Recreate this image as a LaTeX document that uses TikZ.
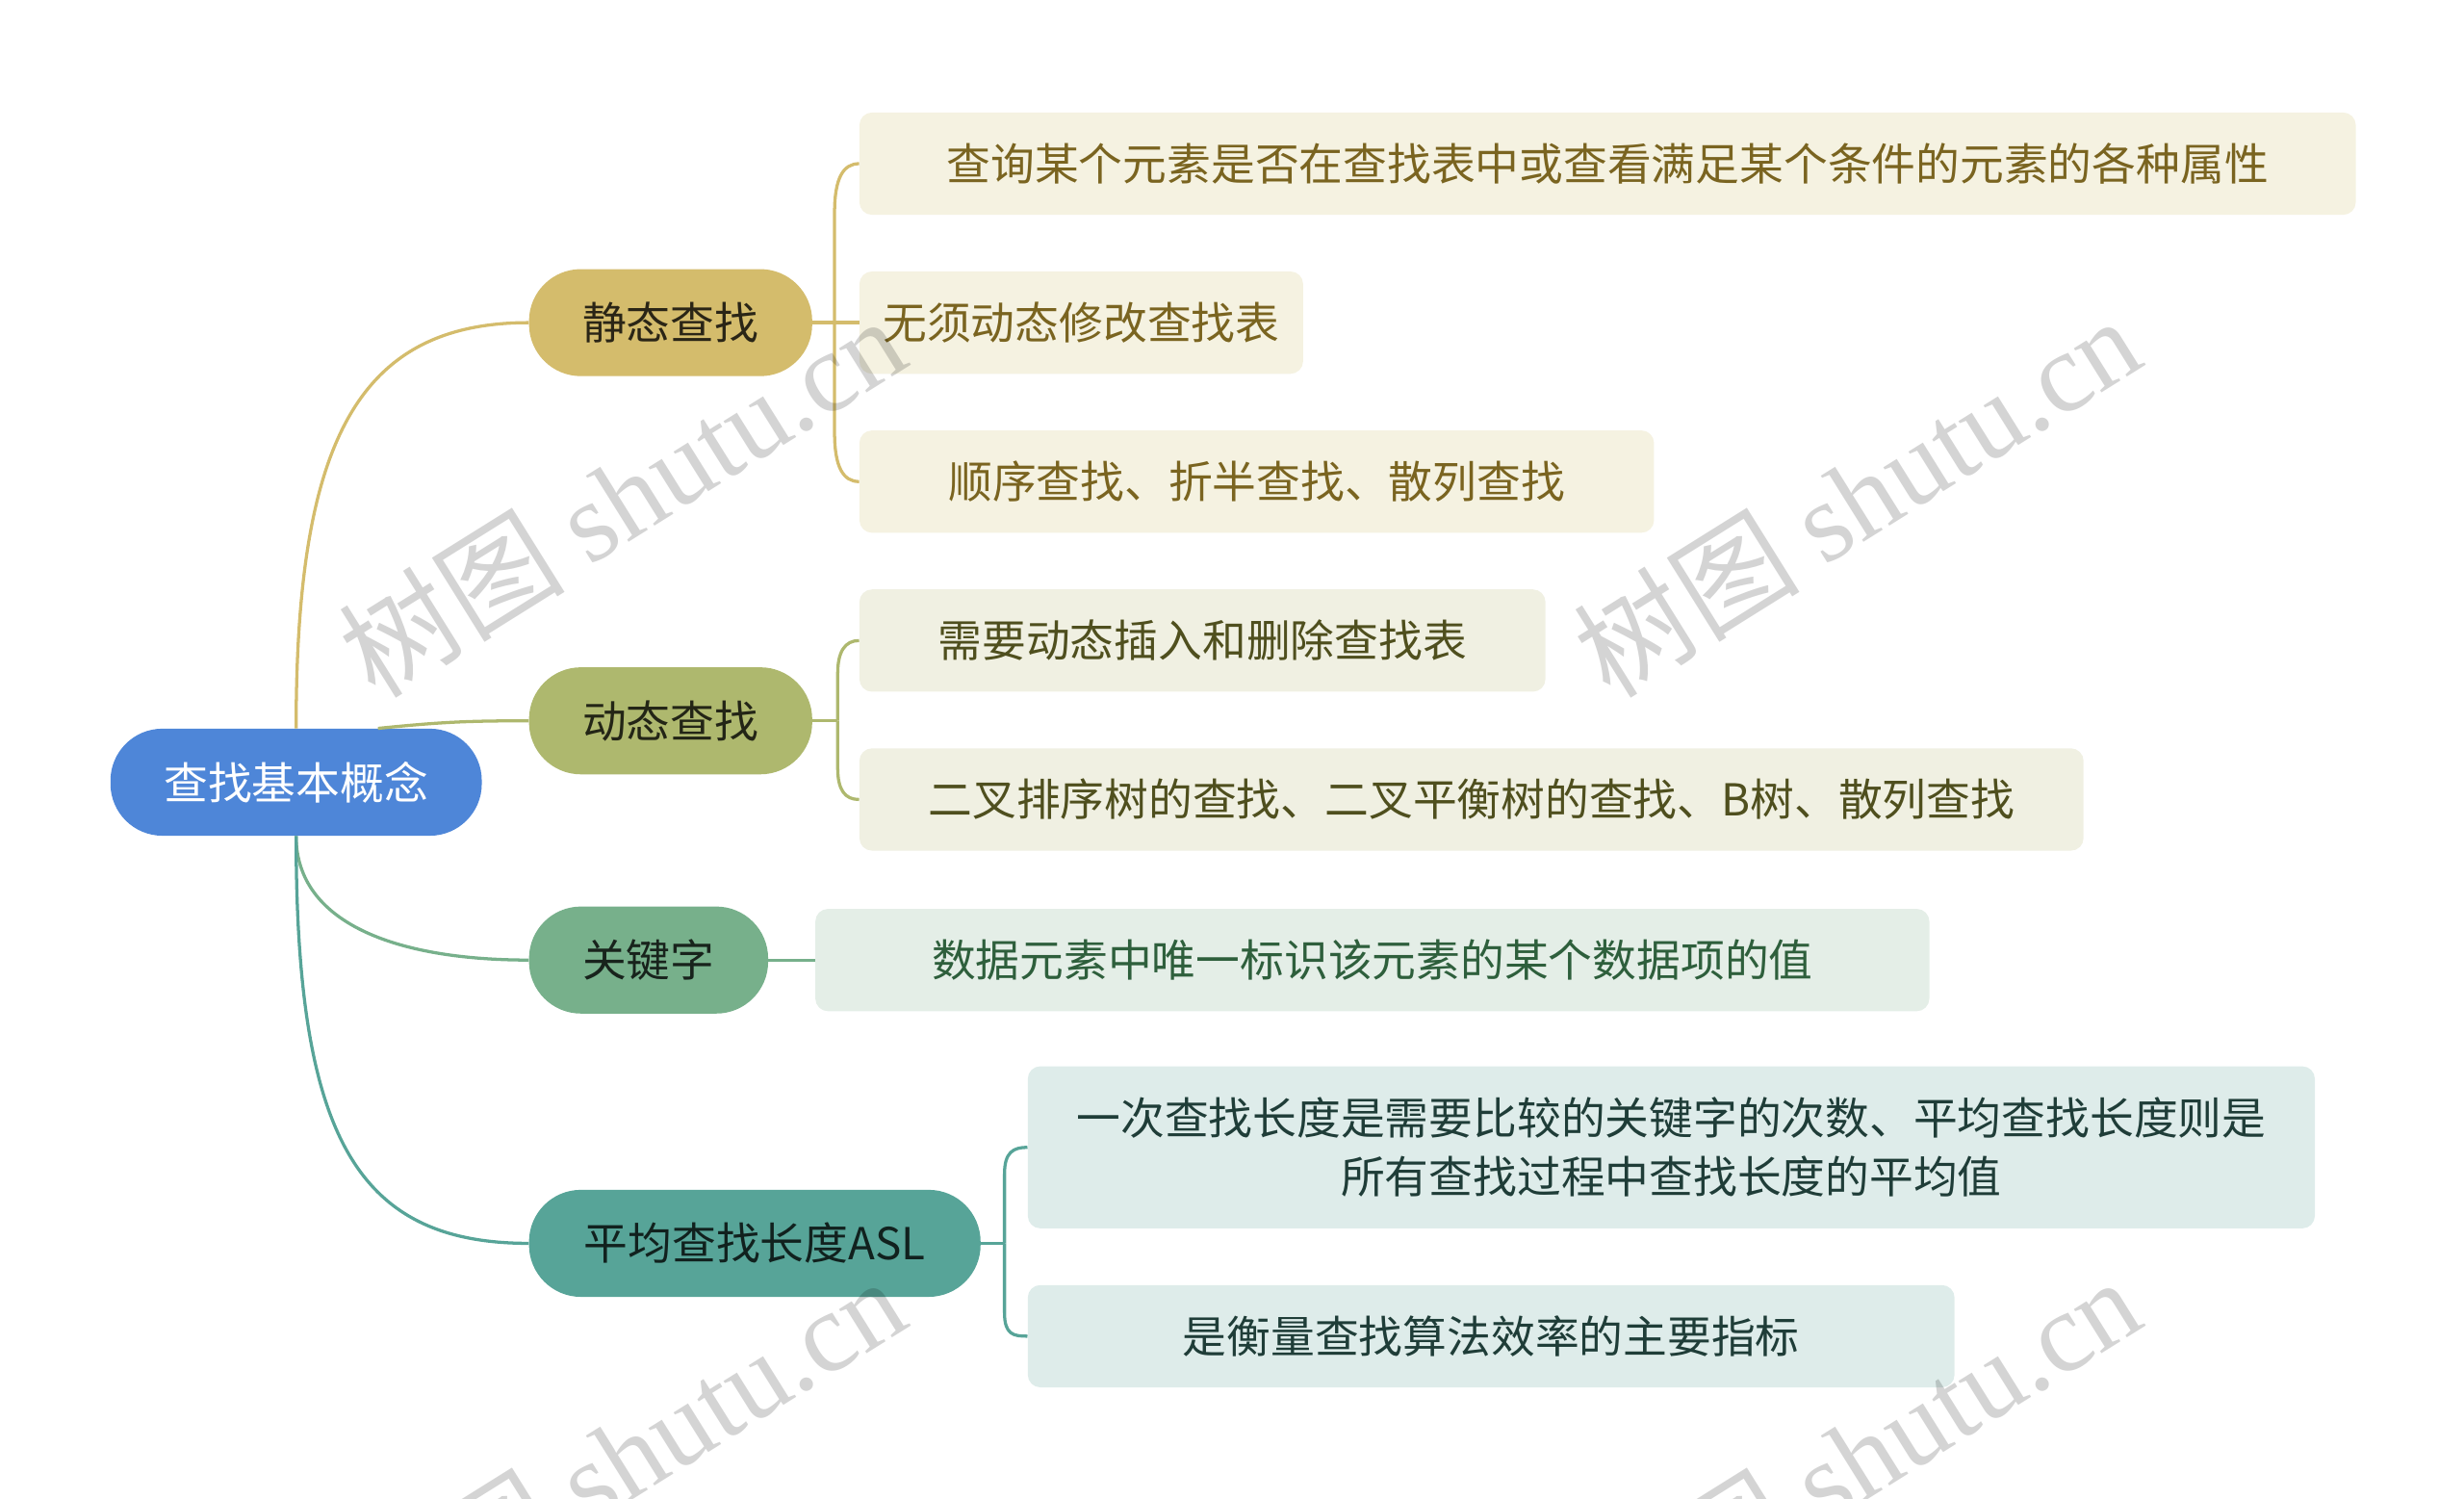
\documentclass[tikz,border=0pt]{standalone}
\usepackage{fontspec}
\setmainfont{Noto Sans CJK SC}
\newfontfamily\wmfont{Liberation Serif}

\definecolor{rootfill}{HTML}{4E86D8}
\definecolor{statfill}{HTML}{D4BC6C}
\definecolor{dynfill}{HTML}{AEB86E}
\definecolor{keyfill}{HTML}{77B08B}
\definecolor{aslfill}{HTML}{57A498}
\definecolor{statleaf}{HTML}{F5F2E1}
\definecolor{dynleaf}{HTML}{F0F0E2}
\definecolor{keyleaf}{HTML}{E4EEE7}
\definecolor{aslleaf}{HTML}{DEECEA}
\definecolor{stattext}{HTML}{7A6420}
\definecolor{dyntext}{HTML}{4F4F1E}
\definecolor{keytext}{HTML}{2E5F3C}
\definecolor{asltext}{HTML}{1F3D38}

\tikzset{
  topic/.style={rectangle, rounded corners=33pt, minimum height=68pt,
    inner sep=0pt, anchor=west, font=\fontsize{28}{34}\selectfont},
  leaf/.style={rectangle, rounded corners=8pt, minimum height=65pt,
    inner sep=0pt, anchor=west, align=center,
    font=\fontsize{28}{37}\selectfont},
  link/.style={line width=2pt},
  watermark/.style={rotate=32, text=black, text opacity=0.17,
    font=\fontsize{72}{80}\selectfont},
}

\begin{document}
\begin{tikzpicture}[x=1pt, y=-1pt]
    \useasboundingbox (0, 0) rectangle (1566, 952);

    % main topics
    \node[topic, fill=rootfill, text=white, minimum width=236pt] (root) at (70, 497) {查找基本概念};
    \node[topic, fill=statfill, text=black!80!statfill, minimum width=180pt] (stat) at (336, 205) {静态查找};
    \node[topic, fill=dynfill, text=black!80!dynfill, minimum width=180pt] (dyn) at (336, 458) {动态查找};
    \node[topic, fill=keyfill, text=black!80!keyfill, minimum width=152pt] (key) at (336, 610) {关键字};
    \node[topic, fill=aslfill, text=black!80!aslfill, minimum width=287pt] (asl) at (336, 790) {平均查找长度ASL};

    % leaves
    \node[leaf, fill=statleaf, text=stattext, minimum width=951pt] (stat1) at (546, 104) {查询某个元素是否在查找表中或查看满足某个条件的元素的各种属性};
    \node[leaf, fill=statleaf, text=stattext, minimum width=282pt] (stat2) at (546, 205) {无须动态修改查找表};
    \node[leaf, fill=statleaf, text=stattext, minimum width=505pt] (stat3) at (546, 306) {顺序查找、折半查找、散列查找};
    \node[leaf, fill=dynleaf, text=dyntext, minimum width=436pt] (dyn1) at (546, 407) {需要动态插入和删除查找表};
    \node[leaf, fill=dynleaf, text=dyntext, minimum width=778pt] (dyn2) at (546, 508) {二叉排序树的查找、二叉平衡树的查找、B树、散列查找};
    \node[leaf, fill=keyleaf, text=keytext, minimum width=708pt] (key1) at (518, 610) {数据元素中唯一标识该元素的某个数据项的值};
    \node[leaf, fill=aslleaf, text=asltext, minimum width=818pt, minimum height=103pt] (asl1) at (653, 729) {一次查找长度是需要比较的关键字的次数、平均查找长度则是\\所有查找过程中查找长度的平均值};
    \node[leaf, fill=aslleaf, text=asltext, minimum width=589pt] (asl2) at (653, 849) {是衡量查找算法效率的主要指标};

    % root to topics
    \draw[link, statfill] (root.north) .. controls +(0, -180) and +(-110, 0) .. (stat.west);
    \draw[link, dynfill] ([xshift=52pt]root.north) .. controls +(40, -4) and +(-40, 0) .. (dyn.west);
    \draw[link, keyfill] (root.south) .. controls +(0, 55) and +(-85, 0) .. (key.west);
    \draw[link, aslfill] (root.south) .. controls +(0, 190) and +(-110, 0) .. (asl.west);

    % topics to leaves
    \coordinate (statj) at ([xshift=14pt]stat.east);
    \draw[link, statfill] (stat.east) -- (stat2.west);
    \draw[link, statfill] (statj) -- ++(0, -70) .. controls +(0, -22) and +(-10, 0) .. (stat1.west);
    \draw[link, statfill] (statj) -- ++(0, 70) .. controls +(0, 22) and +(-10, 0) .. (stat3.west);

    \coordinate (dynj) at ([xshift=16pt]dyn.east);
    \draw[link, dynfill] (dyn.east) -- (dynj);
    \draw[link, dynfill] (dynj) -- ++(0, -30) .. controls +(0, -14) and +(-9, 0) .. (dyn1.west);
    \draw[link, dynfill] (dynj) -- ++(0, 30) .. controls +(0, 14) and +(-9, 0) .. (dyn2.west);

    \draw[link, keyfill] (key.east) -- (key1.west);

    \coordinate (aslj) at ([xshift=15pt]asl.east);
    \draw[link, aslfill] (asl.east) -- (aslj);
    \draw[link, aslfill] (aslj) -- ++(0, -44) .. controls +(0, -14) and +(-9, 0) .. (asl1.west);
    \draw[link, aslfill] (aslj) -- ++(0, 44) .. controls +(0, 14) and +(-9, 0) .. (asl2.west);

    % watermarks
    \node[watermark] (wm1) at (395, 315) {树图 {\wmfont shutu.cn}};
    \node[watermark] (wm2) at (1180, 315) {树图 {\wmfont shutu.cn}};
    \node[watermark] (wm3) at (395, 925) {树图 {\wmfont shutu.cn}};
    \node[watermark] (wm4) at (1180, 925) {树图 {\wmfont shutu.cn}};
\end{tikzpicture}
\end{document}
